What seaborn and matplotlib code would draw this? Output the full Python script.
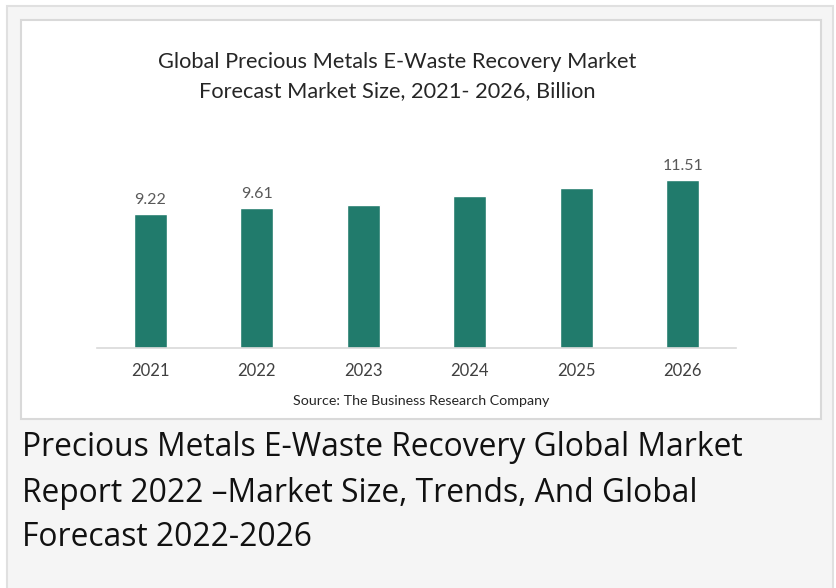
import matplotlib
matplotlib.use("Agg")
import matplotlib.pyplot as plt
from matplotlib.patches import Rectangle
import seaborn as sns
import pandas as pd

years = ["2021", "2022", "2023", "2024", "2025", "2026"]
values = [9.22, 9.61, 9.84, 10.42, 10.95, 11.51]
shown_labels = ["9.22", "9.61", "", "", "", "11.51"]

title_lines = ["Global Precious Metals E-Waste Recovery Market",
               "Forecast Market Size, 2021- 2026, Billion"]
source_text = "Source: The Business Research Company"
caption_lines = ["Precious Metals E-Waste Recovery Global Market",
                 "Report 2022 \u2013Market Size, Trends, And Global",
                 "Forecast 2022-2026"]

sns.set_style("white")
plt.rcParams["font.family"] = ["Lato", "DejaVu Sans"]

W, H = 836, 588
fig = plt.figure(figsize=(W / 100, H / 100), dpi=100)
fig.patch.set_facecolor("white")

def fx(px):
    return px / W

def fy(py):
    return 1 - py / H

# outer page box
fig.patches.append(Rectangle((fx(7), fy(600)), fx(826), (600 - 6) / H,
                             transform=fig.transFigure, facecolor="#f5f5f5",
                             edgecolor="#e0e0e0", linewidth=1.5, zorder=-2))
# inner white chart panel
fig.patches.append(Rectangle((fx(21), fy(419)), fx(800), 399 / H,
                             transform=fig.transFigure, facecolor="white",
                             edgecolor="#d9d9d9", linewidth=1.5, zorder=-1))

ax = fig.add_axes([fx(97), fy(348), fx(736) - fx(97), (348 - 144) / H])
ax.set_zorder(5)
ax.set_facecolor("none")
df = pd.DataFrame({"year": years, "value": values})
sns.barplot(data=df, x="year", y="value", color="#217b6c", width=0.31,
            saturation=1, ax=ax)
ax.set_ylim(0, 14)
ax.set_xlim(-0.5, 5.5)
for s in ["top", "left", "right"]:
    ax.spines[s].set_visible(False)
ax.spines["bottom"].set_color("#d9d9d9")
ax.spines["bottom"].set_linewidth(1.2)
ax.set_yticks([])
ax.set_xlabel("")
ax.set_ylabel("")
ax.tick_params(axis="x", length=0, pad=11, labelsize=12, labelcolor="#404040")

ax.bar_label(ax.containers[0], labels=shown_labels, padding=5,
             fontsize=11.5, color="#595959")

fig.text(fx(397), fy(62), title_lines[0], ha="center", va="center",
         fontsize=15.7, color="#262626")
fig.text(fx(397), fy(91), title_lines[1], ha="center", va="center",
         fontsize=15.7, color="#262626")
fig.text(fx(421), fy(401), source_text, ha="center", va="center",
         fontsize=10.3, color="#262626")

for i, line in enumerate(caption_lines):
    fig.text(fx(22), fy(448 + 45 * i), line, ha="left", va="center",
             fontsize=22.9, color="#111111", family=["Open Sans", "DejaVu Sans"])

fig.savefig("out.png", dpi=100, facecolor=fig.get_facecolor())
